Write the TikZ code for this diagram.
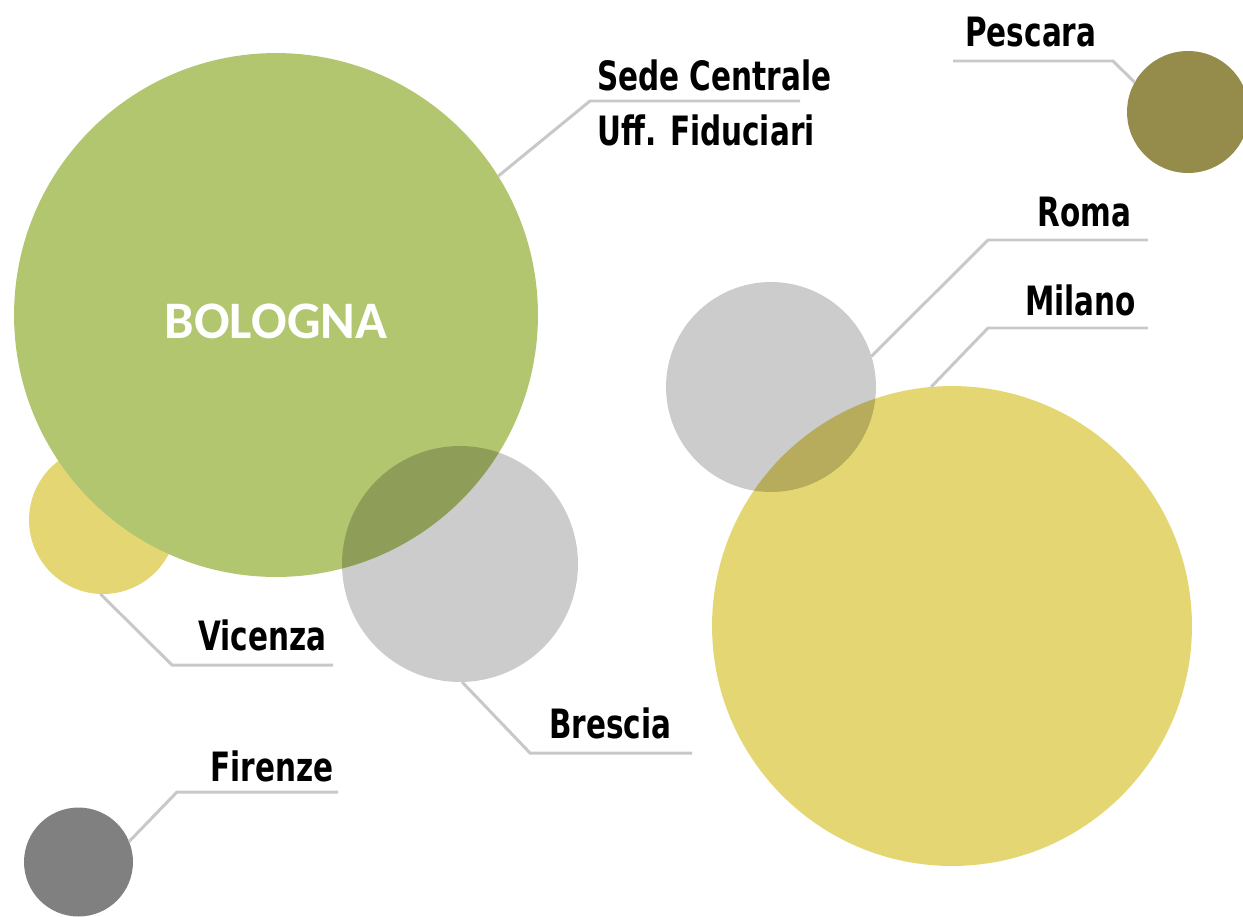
\documentclass[tikz,border=0pt]{standalone}
\usepackage{fontspec}
\newfontfamily\labelfont[FakeStretch=0.73]{DejaVu Sans}
\newfontfamily\titlefont{Carlito}
\definecolor{verde}{RGB}{178,198,112}
\definecolor{giallo}{RGB}{228,215,115}
\definecolor{grigio}{RGB}{204,204,204}
\definecolor{oliva}{RGB}{149,139,74}
\definecolor{scuro}{RGB}{128,128,128}
\definecolor{linea}{RGB}{200,200,200}
\begin{document}
\begin{tikzpicture}[x=0.02cm, y=-0.02cm,
  bubble/.style={circle, inner sep=0pt, outer sep=0pt},
  leader/.style={draw=linea, line width=1.7pt},
  city/.style={font=\labelfont\bfseries\fontsize{23}{26}\selectfont, anchor=base west, inner sep=0pt}]

  \useasboundingbox (0,0) rectangle (1243,916);

  % --- Cerchi ---
  \node[bubble, fill=giallo, minimum size=2.96cm] (vicenza) at (103,520) {};
  \node[bubble, fill=verde, minimum size=10.48cm] (bologna) at (276,315) {};
  \begin{scope}[blend mode=multiply]
    \node[bubble, fill=grigio, minimum size=4.72cm] (brescia) at (460,564) {};
  \end{scope}
  \node[bubble, fill=giallo, minimum size=9.6cm] (milano) at (952,626) {};
  \begin{scope}[blend mode=multiply]
    \node[bubble, fill=grigio, minimum size=4.2cm] (roma) at (771,387) {};
  \end{scope}
  \node[bubble, fill=oliva, minimum size=2.44cm] (pescara) at (1188,112) {};
  \node[bubble, fill=scuro, minimum size=2.18cm] (firenze) at (78.5,862) {};

  \node[font=\titlefont\bfseries\fontsize{30}{33}\selectfont, text=white]
    (bolognatxt) at ([yshift=-0.13cm]bologna.center) {BOLOGNA};

  % --- Etichette ---
  \node[city] (sede) at (597,90) {Sede Centrale};
  \node[city] (uff) at (597,145) {Uff. Fiduciari};
  \node[city] (pescaratxt) at (965,46) {Pescara};
  \node[city] (romatxt) at (1037,226) {Roma};
  \node[city] (milanotxt) at (1025,315) {Milano};
  \node[city] (vicenzatxt) at (198,650) {Vicenza};
  \node[city] (bresciatxt) at (549,738) {Brescia};
  \node[city] (firenzetxt) at (210,781) {Firenze};

  % --- Linee di richiamo ---
  \coordinate (sedeknee) at (590,101);
  \coordinate (sedeend) at (800,101);
  \draw[leader] (bologna.32.8) -- (sedeknee) -- (sedeend);

  \coordinate (pescaraknee) at (1113,61);
  \coordinate (pescaraend) at (953,61);
  \draw[leader] (pescara.151) -- (pescaraknee) -- (pescaraend);

  \coordinate (romaknee) at (988,240);
  \coordinate (romaend) at (1148,240);
  \draw[leader] (roma.17.4) -- (romaknee) -- (romaend);

  \coordinate (milanoknee) at (988,328);
  \coordinate (milanoend) at (1148,328);
  \draw[leader] (milano.95.8) -- (milanoknee) -- (milanoend);

  \coordinate (vicenzaknee) at (172,665);
  \coordinate (vicenzaend) at (333,665);
  \draw[leader] (vicenza.268) -- (vicenzaknee) -- (vicenzaend);

  \coordinate (bresciaknee) at (530,753);
  \coordinate (bresciaend) at (692,753);
  \draw[leader] (brescia.271) -- (bresciaknee) -- (bresciaend);

  \coordinate (firenzeknee) at (177,792);
  \coordinate (firenzeend) at (338,792);
  \draw[leader] (firenze.22.4) -- (firenzeknee) -- (firenzeend);

\end{tikzpicture}
\end{document}
